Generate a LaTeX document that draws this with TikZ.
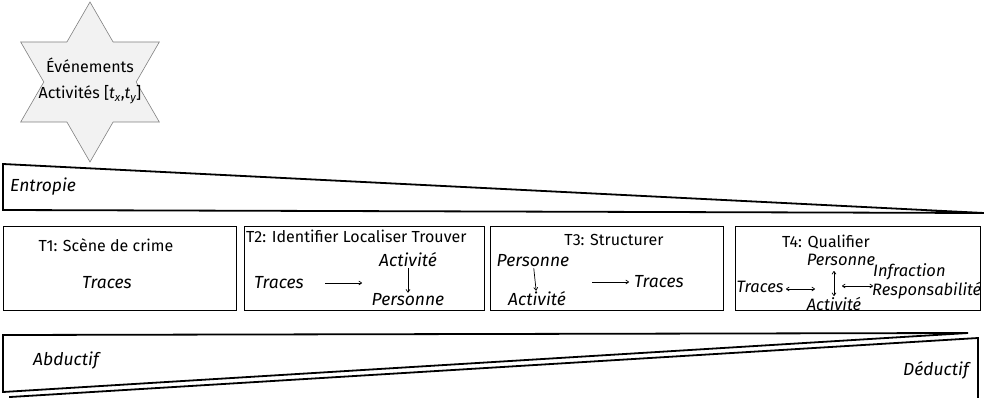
\documentclass[tikz,border=0pt]{standalone}
\usepackage{fontspec}
\setmainfont{Fira Sans}
\usetikzlibrary{arrows.meta}
\begin{document}
\begin{tikzpicture}[x=1pt,y=-1pt,
  box/.style={draw=black, line width=1.3pt, anchor=north west, inner sep=0pt},
  wedge/.style={draw=black, line width=1.8pt, line join=miter},
  ttl/.style={font=\fontsize{16}{18}\selectfont, inner sep=1pt},
  it/.style={font=\fontsize{17.5}{19}\selectfont\itshape, inner sep=1pt},
  its/.style={font=\fontsize{16.5}{18}\selectfont\itshape, inner sep=1pt},
  arr/.style={-{To[length=3.5pt,width=4.5pt]}, line width=0.7pt},
  darr/.style={{To[length=3.5pt,width=4.5pt]}-{To[length=3.5pt,width=4.5pt]}, line width=0.7pt}
]
\useasboundingbox (0,0) rectangle (984,398);
% star
\path[draw=black!50, fill=black!5, line width=0.6pt]
  (90,2) -- (113.1,42) -- (159.3,42) -- (136.2,82) -- (159.3,122) -- (113.1,122)
  -- (90,162) -- (66.9,122) -- (20.7,122) -- (43.8,82) -- (20.7,42) -- (66.9,42) -- cycle;
\node[align=center, font=\fontsize{16}{26}\selectfont, inner sep=0pt] (star) at (90,81)
  {Événements\\Activités [\textit{t}\textsubscript{\itshape x},\textit{t}\textsubscript{\itshape y}]};
% entropie wedge
\draw[wedge] (3,164) -- (984,213) -- (3,210) -- cycle;
\node[it, anchor=west] (entropie) at (9,187) {Entropie};
% boxes
\node[box, minimum width=233pt, minimum height=84pt] (t1) at (3,226) {};
\node[box, minimum width=240pt, minimum height=84pt] (t2) at (244,226) {};
\node[box, minimum width=233pt, minimum height=84pt] (t3) at (490,226) {};
\node[box, minimum width=245pt, minimum height=84pt] (t4) at (735,226) {};
% T1
\node[ttl] (t1t) at (106,245) {T1: Scène de crime};
\node[it] (t1tr) at (107,283) {Traces};
% T2
\node[ttl, anchor=north west] (t2t) at (245,228.5) {T2: Identifier Localiser Trouver};
\node[it] (t2tr) at (279,283) {Traces};
\node[it] (t2act) at (408,260) {Activité};
\node[it] (t2per) at (408,300) {Personne};
\coordinate (t2a) at (325,283);
\coordinate (t2b) at (362,283);
\draw[arr] (t2a) -- (t2b);
\draw[arr] (t2act) -- (t2per);
% T3
\node[ttl] (t3t) at (614,240) {T3: Structurer};
\node[it] (t3per) at (533,261) {Personne};
\node[it] (t3act) at (537,299) {Activité};
\node[it] (t3tr) at (659,282) {Traces};
\coordinate (t3a) at (592,282);
\coordinate (t3b) at (629,282);
\draw[arr] (t3per) -- (t3act);
\draw[arr] (t3a) -- (t3b);
% T4
\node[ttl] (t4t) at (826,242) {T4: Qualifier};
\node[its] (t4per) at (841,260) {Personne};
\node[its] (t4act) at (834,304) {Activité};
\node[its, anchor=west] (t4tr) at (735.5,287) {Traces};
\node[its, anchor=west] (t4inf) at (872,272) {Infraction};
\node[its, anchor=west] (t4resp) at (871,291) {Responsabilité};
\coordinate (t4a) at (786,289);
\coordinate (t4b) at (815,289);
\coordinate (t4c) at (834,271);
\coordinate (t4d) at (834,296);
\coordinate (t4e) at (842,286);
\coordinate (t4f) at (873,286);
\draw[darr] (t4a) -- (t4b);
\draw[darr] (t4c) -- (t4d);
\draw[darr] (t4e) -- (t4f);
% bottom wedges
\draw[wedge] (3,335) -- (968,333) -- (3,392) -- cycle;
\draw[wedge] (978,338) -- (978,402) -- (10,402) -- (10,397) -- cycle;
\node[it] (abd) at (66,361) {Abductif};
\node[it] (ded) at (936,370) {Déductif};
\end{tikzpicture}
\end{document}
